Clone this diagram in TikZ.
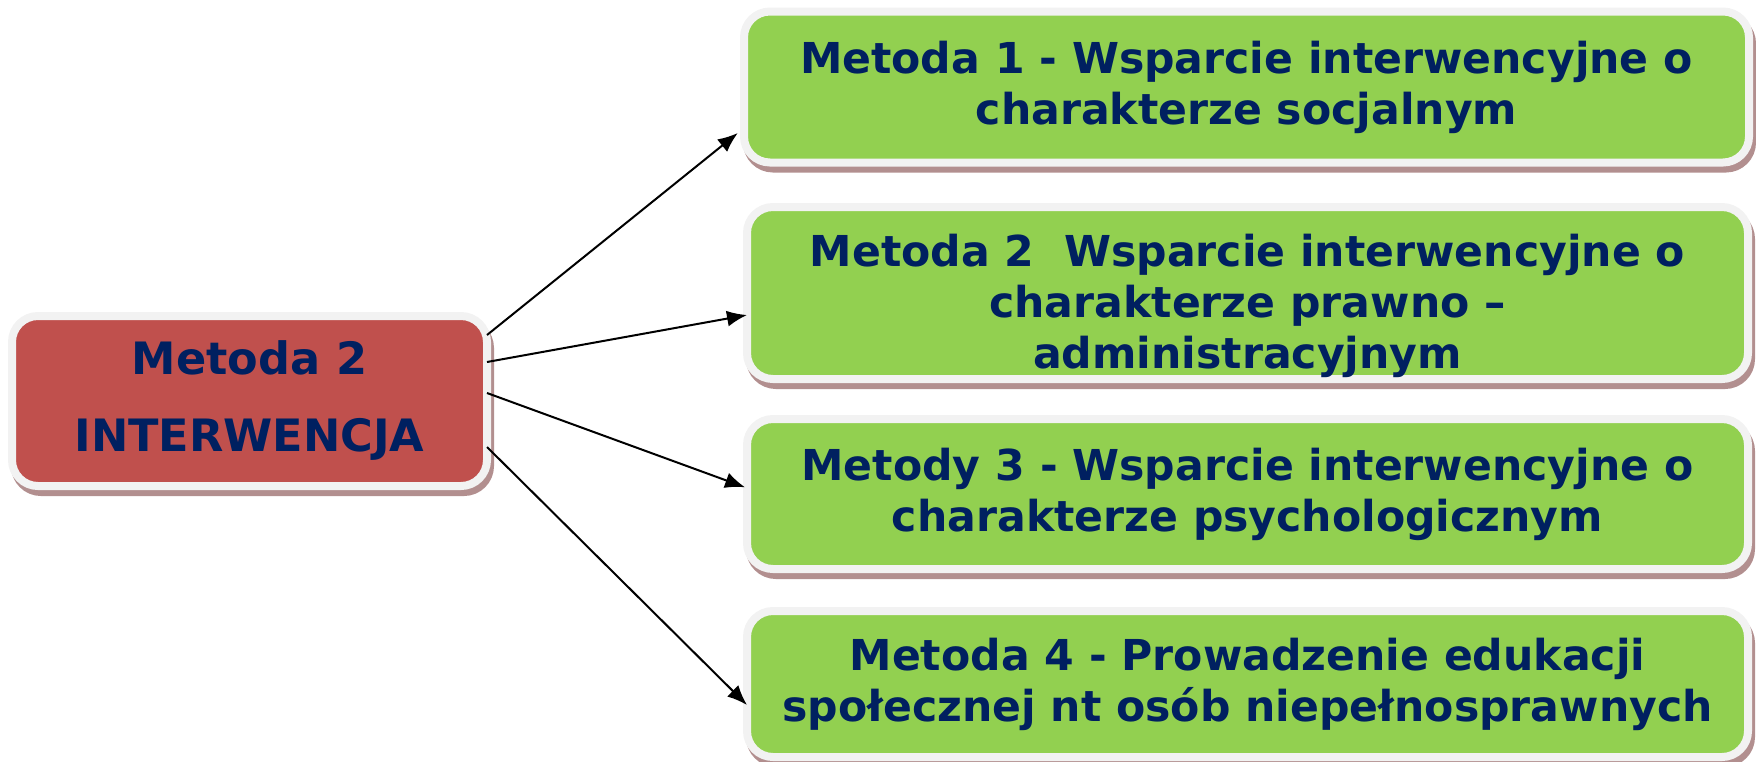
\documentclass[tikz,border=0pt]{standalone}
\usepackage{fontspec}
\setmainfont{DejaVu Sans}
\usetikzlibrary{arrows.meta,shadows}

\definecolor{navytext}{RGB}{0,32,96}
\definecolor{boxgreen}{RGB}{146,208,80}
\definecolor{boxred}{RGB}{192,80,77}
\definecolor{rimgray}{RGB}{242,242,242}
\definecolor{shadowrose}{RGB}{178,143,143}

\tikzset{
  basebox/.style={draw=rimgray, line width=4pt, rounded corners=13pt,
    text=navytext, align=center, inner sep=0pt, outer sep=0pt,
    drop shadow={shadow xshift=1.5pt, shadow yshift=-3pt, fill=shadowrose,
      draw=shadowrose, line width=4pt, opacity=1}},
  methodbox/.style={basebox, fill=boxgreen, minimum width=500.5pt,
    font=\fontsize{21.3}{25.5}\selectfont\bfseries},
  mainbox/.style={basebox, fill=boxred,
    font=\fontsize{22.3}{38.5}\selectfont\bfseries},
  link/.style={line width=1pt, -{Latex[length=10pt,width=8pt]}}
}

\begin{document}
\begin{tikzpicture}[x=0.5pt,y=-0.5pt]
    \useasboundingbox (0,0) rectangle (1756,761);

    % Main box on the left
    \node[mainbox, minimum width=237.5pt, minimum height=85pt] (interwencja) at (249.5,401)
        {Metoda 2\\INTERWENCJA};

    % Method boxes on the right
    \node[methodbox, minimum width=502.5pt, minimum height=75.5pt] (metoda1) at (1246.5,87)
        {Metoda 1 - Wsparcie interwencyjne o\\charakterze socjalnym};
    \node[methodbox, minimum height=86pt] (metoda2) at (1247.5,293)
        {\rule{0pt}{29pt}Metoda 2\ \ Wsparcie interwencyjne o\\charakterze prawno –\\administracyjnym};
    \node[methodbox, minimum height=75pt] (metoda3) at (1247.5,494)
        {Metody 3 - Wsparcie interwencyjne o\\charakterze psychologicznym};
    \node[methodbox, minimum height=73pt] (metoda4) at (1247.5,684)
        {Metoda 4 - Prowadzenie edukacji\\społecznej nt osób niepełnosprawnych};

    % Arrows from the main box
    \draw[link, shorten >=4pt] ([yshift=33pt]interwencja.east) -- ([yshift=-20.5pt]metoda1.west);
    \draw[link] ([yshift=19.5pt]interwencja.east) -- ([yshift=-11pt]metoda2.west);
    \draw[link, shorten >=1pt] ([yshift=4pt]interwencja.east) -- ([yshift=3pt]metoda3.west);
    \draw[link] ([yshift=-23pt]interwencja.east) -- ([yshift=-10.5pt]metoda4.west);

\end{tikzpicture}
\end{document}
